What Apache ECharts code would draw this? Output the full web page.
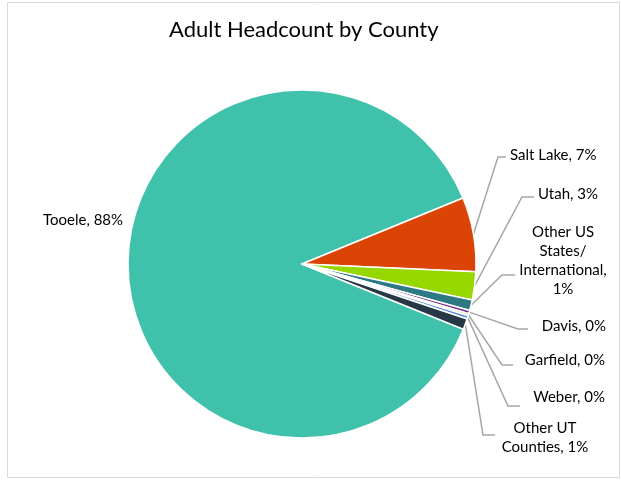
<!DOCTYPE html>
<html>
<head>
<meta charset="utf-8">
<script src="https://cdn.jsdelivr.net/npm/echarts@6/dist/echarts.min.js"></script>
<style>
  html, body { margin: 0; padding: 0; background: #fff; }
  #chart { width: 621px; height: 483px; }
</style>
</head>
<body>
<div id="chart"></div>
<script>
// 数据
const counties = ["Tooele", "Salt Lake", "Utah", "Other US States/ International", "Davis", "Garfield", "Weber", "Other UT Counties"];
const shares = [87.7, 6.9, 2.6, 1.0, 0.3, 0.2, 0.3, 1.0];
const colors = ["#40C1AC", "#DC4405", "#97D700", "#2D7A85", "#6F2C91", "#F2C75C", "#5B8FD6", "#263746"];
// label text (Excel wraps these lines)
const labelTexts = ["Tooele, 88%", "Salt Lake, 7%", "Utah, 3%", "Other US\nStates/\nInternational,\n1%", "Davis, 0%", "Garfield, 0%", "Weber, 0%", "Other UT\nCounties, 1%"];

// label placement: text anchor + where the leader line bends / ends
const labelPos = [
  { x: 43, y: 220, align: "left" },
  { x: 510, y: 155, align: "left", bx: 498, ex: 506, ly: 157 },
  { x: 538, y: 194, align: "left", bx: 522, ex: 534, ly: 197 },
  { x: 563, y: 261, align: "center", bx: 502, ex: 515, ly: 275 },
  { x: 606, y: 326, align: "right", bx: 518, ex: 528, ly: 329 },
  { x: 605, y: 360, align: "right", bx: 502, ex: 513, ly: 365 },
  { x: 605, y: 397, align: "right", bx: 508, ex: 520, ly: 406 },
  { x: 545, y: 438, align: "center", bx: 483, ex: 495, ly: 435 }
];

const chart = echarts.init(document.getElementById("chart"));
const font = "Lato, 'Open Sans', sans-serif";

chart.setOption({
  animation: false,
  title: {
    text: "Adult Headcount by County",
    left: 164,
    top: 14,
    textStyle: { fontFamily: font, fontSize: 22, fontWeight: "normal", color: "#000" }
  },
  graphic: [
    {
      type: "rect",
      shape: { x: 7.5, y: 2.5, width: 612, height: 475 },
      style: { fill: "none", stroke: "#d9d9d9", lineWidth: 1 },
      silent: true,
      z: -1
    }
  ],
  series: [
    {
      type: "pie",
      center: [302, 264],
      radius: 174,
      startAngle: 338,
      clockwise: true,
      percentPrecision: 0,
      itemStyle: { borderColor: "#fff", borderWidth: 1.5 },
      label: {
        show: true,
        fontFamily: font,
        fontSize: 15,
        color: "#000",
        lineHeight: 19,
        overflow: "none",
        formatter: (p) => labelTexts[p.dataIndex]
      },
      labelLine: {
        show: true,
        lineStyle: { color: "#a6a6a6", width: 1.5 }
      },
      labelLayout: (params) => {
        const pos = labelPos[params.dataIndex];
        const out = { x: pos.x, y: pos.y, align: pos.align, verticalAlign: "middle" };
        const pts = params.labelLinePoints;
        if (pos.bx != null && pts && pts.length) {
          out.labelLinePoints = [pts[0], [pos.bx, pos.ly], [pos.ex, pos.ly]];
        }
        return out;
      },
      data: counties.map((name, i) => ({
        name: name,
        value: shares[i],
        itemStyle: { color: colors[i] },
        labelLine: { show: i !== 0 }
      }))
    }
  ]
});
</script>
</body>
</html>
